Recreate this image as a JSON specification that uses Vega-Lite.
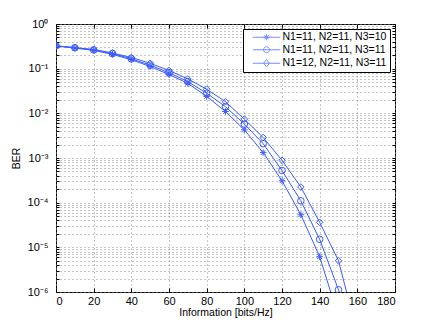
{
  "$schema": "https://vega.github.io/schema/vega-lite/v6.json",
  "width": 339,
  "height": 268,
  "autosize": {"type": "none"},
  "padding": {"left": 56, "top": 24, "right": 41, "bottom": 36},
  "background": "white",
  "config": {
    "view": {"stroke": "#000", "strokeWidth": 1},
    "font": "Liberation Sans",
    "axis": {
      "domain": false,
      "gridColor": "#8a8a8a",
      "gridDash": [1, 3],
      "gridWidth": 1,
      "tickColor": "#000",
      "tickSize": -4,
      "labelFont": "Liberation Sans",
      "labelFontSize": 11,
      "labelColor": "#000",
      "titleFont": "Liberation Sans",
      "titleFontSize": 10.5,
      "titleFontWeight": "normal",
      "titleColor": "#000"
    },
    "legend": {
      "strokeColor": "#000",
      "fillColor": "#fff",
      "padding": 3,
      "labelFont": "Liberation Sans",
      "labelFontSize": 10.5,
      "labelColor": "#000",
      "symbolSize": 36,
      "symbolStrokeWidth": 1,
      "symbolStrokeColor": "#3a5cff",
      "labelOffset": 26,
      "rowPadding": 1.5
    }
  },
  "data": {
    "values": [
      {"x": 0, "ber": 0.324, "series": "N1=11, N2=11, N3=10"},
      {"x": 10, "ber": 0.288, "series": "N1=11, N2=11, N3=10"},
      {"x": 20, "ber": 0.257, "series": "N1=11, N2=11, N3=10"},
      {"x": 30, "ber": 0.209, "series": "N1=11, N2=11, N3=10"},
      {"x": 40, "ber": 0.158, "series": "N1=11, N2=11, N3=10"},
      {"x": 50, "ber": 0.112, "series": "N1=11, N2=11, N3=10"},
      {"x": 60, "ber": 0.0741, "series": "N1=11, N2=11, N3=10"},
      {"x": 70, "ber": 0.0468, "series": "N1=11, N2=11, N3=10"},
      {"x": 80, "ber": 0.024, "series": "N1=11, N2=11, N3=10"},
      {"x": 90, "ber": 0.01096, "series": "N1=11, N2=11, N3=10"},
      {"x": 100, "ber": 0.00427, "series": "N1=11, N2=11, N3=10"},
      {"x": 110, "ber": 0.00132, "series": "N1=11, N2=11, N3=10"},
      {"x": 120, "ber": 0.000309, "series": "N1=11, N2=11, N3=10"},
      {"x": 130, "ber": 0.0000537, "series": "N1=11, N2=11, N3=10"},
      {"x": 140, "ber": 0.00000617, "series": "N1=11, N2=11, N3=10"},
      {"x": 150, "ber": 0.000000275, "series": "N1=11, N2=11, N3=10"},
      {"x": 0, "ber": 0.324, "series": "N1=11, N2=11, N3=11"},
      {"x": 10, "ber": 0.295, "series": "N1=11, N2=11, N3=11"},
      {"x": 20, "ber": 0.263, "series": "N1=11, N2=11, N3=11"},
      {"x": 30, "ber": 0.219, "series": "N1=11, N2=11, N3=11"},
      {"x": 40, "ber": 0.166, "series": "N1=11, N2=11, N3=11"},
      {"x": 50, "ber": 0.12, "series": "N1=11, N2=11, N3=11"},
      {"x": 60, "ber": 0.0813, "series": "N1=11, N2=11, N3=11"},
      {"x": 70, "ber": 0.0513, "series": "N1=11, N2=11, N3=11"},
      {"x": 80, "ber": 0.0282, "series": "N1=11, N2=11, N3=11"},
      {"x": 90, "ber": 0.0141, "series": "N1=11, N2=11, N3=11"},
      {"x": 100, "ber": 0.00575, "series": "N1=11, N2=11, N3=11"},
      {"x": 110, "ber": 0.00209, "series": "N1=11, N2=11, N3=11"},
      {"x": 120, "ber": 0.000525, "series": "N1=11, N2=11, N3=11"},
      {"x": 130, "ber": 0.00011, "series": "N1=11, N2=11, N3=11"},
      {"x": 140, "ber": 0.0000151, "series": "N1=11, N2=11, N3=11"},
      {"x": 150, "ber": 0.00000112, "series": "N1=11, N2=11, N3=11"},
      {"x": 160, "ber": 0.00000005, "series": "N1=11, N2=11, N3=11"},
      {"x": 0, "ber": 0.324, "series": "N1=12, N2=11, N3=11"},
      {"x": 10, "ber": 0.295, "series": "N1=12, N2=11, N3=11"},
      {"x": 20, "ber": 0.269, "series": "N1=12, N2=11, N3=11"},
      {"x": 30, "ber": 0.224, "series": "N1=12, N2=11, N3=11"},
      {"x": 40, "ber": 0.178, "series": "N1=12, N2=11, N3=11"},
      {"x": 50, "ber": 0.132, "series": "N1=12, N2=11, N3=11"},
      {"x": 60, "ber": 0.0912, "series": "N1=12, N2=11, N3=11"},
      {"x": 70, "ber": 0.0589, "series": "N1=12, N2=11, N3=11"},
      {"x": 80, "ber": 0.0347, "series": "N1=12, N2=11, N3=11"},
      {"x": 90, "ber": 0.0182, "series": "N1=12, N2=11, N3=11"},
      {"x": 100, "ber": 0.00741, "series": "N1=12, N2=11, N3=11"},
      {"x": 110, "ber": 0.00288, "series": "N1=12, N2=11, N3=11"},
      {"x": 120, "ber": 0.000891, "series": "N1=12, N2=11, N3=11"},
      {"x": 130, "ber": 0.000224, "series": "N1=12, N2=11, N3=11"},
      {"x": 140, "ber": 0.0000363, "series": "N1=12, N2=11, N3=11"},
      {"x": 150, "ber": 0.00000501, "series": "N1=12, N2=11, N3=11"},
      {"x": 160, "ber": 0.000000117, "series": "N1=12, N2=11, N3=11"}
    ]
  },
  "layer": [
    {
      "mark": {"type": "line", "color": "#3a5cff", "strokeWidth": 1, "clip": true},
      "encoding": {
        "x": {
          "field": "x", "type": "quantitative",
          "scale": {"domain": [0, 180], "nice": false, "zero": false},
          "axis": {
            "orient": "bottom",
            "values": [0, 20, 40, 60, 80, 100, 120, 140, 160, 180],
            "grid": true,
            "labelPadding": 7,
            "title": "Information [bits/Hz]",
            "titlePadding": 1
          }
        },
        "y": {
          "field": "ber", "type": "quantitative",
          "scale": {"type": "log", "domain": [0.000001, 1], "nice": false},
          "axis": {
            "orient": "left",
            "values": [0.000001, 0.000002, 0.000003, 0.000004, 0.000005, 0.000006, 0.000007, 0.000008, 0.000009,
                       0.00001, 0.00002, 0.00003, 0.00004, 0.00005, 0.00006, 0.00007, 0.00008, 0.00009,
                       0.0001, 0.0002, 0.0003, 0.0004, 0.0005, 0.0006, 0.0007, 0.0008, 0.0009,
                       0.001, 0.002, 0.003, 0.004, 0.005, 0.006, 0.007, 0.008, 0.009,
                       0.01, 0.02, 0.03, 0.04, 0.05, 0.06, 0.07, 0.08, 0.09,
                       0.1, 0.2, 0.3, 0.4, 0.5, 0.6, 0.7, 0.8, 0.9, 1],
            "grid": true,
            "tickSize": -3,
            "labelPadding": 11,
            "labelExpr": "abs(log(datum.value)/LN10 - round(log(datum.value)/LN10)) < 0.001 ? ['10⁰','10⁻¹','10⁻²','10⁻³','10⁻⁴','10⁻⁵','10⁻⁶'][-round(log(datum.value)/LN10)] : ''",
            "title": "BER",
            "titlePadding": 6
          }
        },
        "detail": {"field": "series", "type": "nominal"}
      }
    },
    {
      "mark": {"type": "point", "filled": false, "color": "#3a5cff", "strokeWidth": 1, "size": 44, "opacity": 1, "clip": true},
      "encoding": {
        "x": {
          "field": "x", "type": "quantitative",
          "axis": {
            "orient": "top",
            "values": [0, 20, 40, 60, 80, 100, 120, 140, 160, 180],
            "grid": false, "labels": false, "title": null
          }
        },
        "y": {
          "field": "ber", "type": "quantitative",
          "axis": {
            "orient": "right",
            "values": [0.000001, 0.000002, 0.000003, 0.000004, 0.000005, 0.000006, 0.000007, 0.000008, 0.000009,
                       0.00001, 0.00002, 0.00003, 0.00004, 0.00005, 0.00006, 0.00007, 0.00008, 0.00009,
                       0.0001, 0.0002, 0.0003, 0.0004, 0.0005, 0.0006, 0.0007, 0.0008, 0.0009,
                       0.001, 0.002, 0.003, 0.004, 0.005, 0.006, 0.007, 0.008, 0.009,
                       0.01, 0.02, 0.03, 0.04, 0.05, 0.06, 0.07, 0.08, 0.09,
                       0.1, 0.2, 0.3, 0.4, 0.5, 0.6, 0.7, 0.8, 0.9, 1],
            "grid": false, "labels": false, "title": null, "tickSize": -3
          }
        },
        "shape": {
          "field": "series", "type": "nominal",
          "scale": {
            "domain": ["N1=11, N2=11, N3=10", "N1=11, N2=11, N3=11", "N1=12, N2=11, N3=11"],
            "range": ["M0,-1V1M-1,0H1M-0.7,-0.7L0.7,0.7M-0.7,0.7L0.7,-0.7", "circle", "diamond"]
          },
          "legend": null
        }
      }
    },
    {
      "transform": [{"filter": "datum.x < 0"}],
      "mark": {"type": "point", "filled": false, "color": "#3a5cff", "strokeWidth": 1, "size": 36},
      "encoding": {
        "x": {"field": "x", "type": "quantitative", "axis": null},
        "y": {"field": "ber", "type": "quantitative", "axis": null},
        "shape": {
          "field": "series", "type": "nominal",
          "scale": {
            "domain": ["N1=11, N2=11, N3=10", "N1=11, N2=11, N3=11", "N1=12, N2=11, N3=11"],
            "range": [
              "M0.5,0H9.7M5.1,-1V1M4.1,0H6.1M4.4,-0.7L5.8,0.7M4.4,0.7L5.8,-0.7",
              "M0.5,0H9.7M6.1,0A1,1 0 1,1 4.1,0A1,1 0 1,1 6.1,0",
              "M0.5,0H9.7M5.1,-1.2L6.1,0L5.1,1.2L4.1,0Z"
            ]
          },
          "legend": {"title": null, "orient": "top-right", "offset": 5}
        }
      }
    }
  ],
  "resolve": {"scale": {"shape": "independent"}, "axis": {"x": "independent", "y": "independent"}}
}
